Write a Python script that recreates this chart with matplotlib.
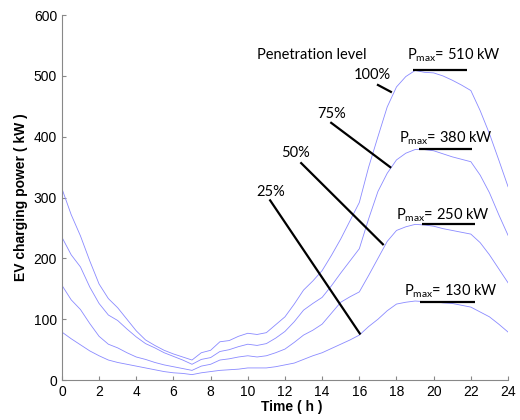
import matplotlib
matplotlib.use("Agg")
import matplotlib.pyplot as plt
import numpy as np

hours = np.arange(0, 24.01, 0.5)

p100 = [315, 272, 237, 196, 158, 134, 119, 100, 81, 66, 57, 49, 43, 38, 33,
        45, 49, 63, 65, 72, 77, 75, 78, 91, 104, 125, 148, 163, 180, 205,
        232, 262, 292, 350, 400, 449, 482, 499, 509, 506, 505, 500, 493, 485,
        476, 443, 405, 362, 318]
p75 = [235, 206, 186, 153, 126, 107, 98, 84, 71, 60, 53, 45, 39, 33, 26,
       34, 37, 47, 50, 55, 59, 57, 60, 69, 80, 96, 115, 126, 136, 155,
       176, 196, 216, 265, 310, 340, 362, 373, 379, 379, 377, 372, 367, 363,
       359, 337, 308, 272, 238]
p50 = [156, 132, 116, 93, 72, 59, 53, 45, 38, 34, 29, 25, 22, 19, 16,
       23, 26, 33, 35, 38, 40, 38, 40, 45, 51, 62, 74, 82, 92, 110,
       128, 137, 145, 172, 200, 228, 246, 252, 256, 255, 253, 249, 246, 243,
       240, 226, 206, 183, 160]
p25 = [79, 68, 58, 48, 40, 33, 29, 26, 23, 20, 17, 14, 12, 11, 9,
       12, 14, 16, 17, 18, 20, 20, 20, 22, 25, 28, 34, 40, 45, 52,
       59, 66, 74, 88, 100, 114, 125, 128, 130, 129, 129, 127, 126, 123,
       120, 112, 104, 92, 79]

series = [p100, p75, p50, p25]
levels = ["100%", "75%", "50%", "25%"]
# leader lines: (label pos, line start, line end)
label_pos = [(16.68, 501), (14.53, 438), (12.56, 373), (11.25, 309)]
lead_start = [(16.95, 486), (14.44, 424), (12.83, 358), (11.17, 297)]
lead_end = [(17.75, 473), (17.71, 349), (17.31, 222), (16.06, 75)]

pmax_values = [510, 380, 250, 130]
pmax_text_pos = [(21.07, 534), (20.63, 397), (20.49, 271), (20.9, 147)]
pmax_line_x = [(18.9, 21.8), (19.19, 22.07), (19.37, 22.24), (19.25, 22.24)]
pmax_line_y = [510, 380, 256, 129]

xticks = list(range(0, 25, 2))
yticks = list(range(0, 601, 100))

plt.rcParams['font.family'] = ['Liberation Sans', 'DejaVu Sans']

fig = plt.figure(figsize=(5.2, 4.2), dpi=100)
ax = fig.add_axes([0.119, 0.095, 0.858, 0.869])

for s in series:
    ax.plot(hours, s, color='#8a8aff', lw=0.6)

ann_font = ['Lato', 'DejaVu Sans']
for lab, lp, ls, le in zip(levels, label_pos, lead_start, lead_end):
    ax.text(lp[0], lp[1], lab, ha='center', va='center', fontsize=10.5,
            family=ann_font)
    ax.plot([ls[0], le[0]], [ls[1], le[1]], color='black', lw=1.6,
            solid_capstyle='butt')

for v, tp, lx, ly in zip(pmax_values, pmax_text_pos, pmax_line_x, pmax_line_y):
    ax.text(tp[0], tp[1], r"P$_{\mathregular{max}}$= %d kW" % v,
            ha='center', va='center', fontsize=10.5, family=ann_font)
    ax.plot(list(lx), [ly, ly], color='black', lw=1.6, solid_capstyle='butt')

ax.text(13.46, 534, "Penetration level", ha='center', va='center',
        fontsize=10.5, family=ann_font)

ax.set_xlim(0, 24)
ax.set_ylim(0, 600)
ax.set_xticks(xticks)
ax.set_yticks(yticks)
ax.tick_params(direction='in', length=3, color='#888888', labelsize=10,
               width=0.8)
for side in ['top', 'right']:
    ax.spines[side].set_visible(False)
for side in ['left', 'bottom']:
    ax.spines[side].set_color('#888888')
    ax.spines[side].set_linewidth(0.8)

ax.set_xlabel("Time ( h )", fontsize=10, fontweight='bold', labelpad=2)
ax.xaxis.set_label_coords(0.515, -0.055)
ax.set_ylabel("EV charging power ( kW )", fontsize=10, fontweight='bold',
              labelpad=4)

fig.savefig("out.png", dpi=100)
